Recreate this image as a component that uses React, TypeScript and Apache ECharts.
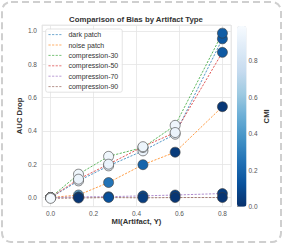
import React, { useEffect, useRef } from "react";
import * as echarts from "echarts";

const miValues = [0, 0.13, 0.27, 0.43, 0.58, 0.8];
const seriesNames = ["dark patch", "noise patch", "compression-30", "compression-50", "compression-70", "compression-90"];

const darkPatchDrop = [0, 0.1, 0.19, 0.28, 0.38, 0.952];
const noisePatchDrop = [0, 0.015, 0.09, 0.197, 0.272, 0.545];
const comp30Drop = [0, 0.14, 0.247, 0.3, 0.433, 0.986];
const comp50Drop = [0, 0.11, 0.2, 0.305, 0.39, 0.871];
const comp70Drop = [0, 0.004, 0.005, 0.01, 0.015, 0.024];
const comp90Drop = [-0.005, -0.003, 0, -0.002, 0, 0];

const darkPatchCmi = [0.98, 0.92, 0.93, 0.93, 0.93, 0.15];
const noisePatchCmi = [0.98, 0.45, 0.26, 0.2, 0.04, 0.03];
const comp30Cmi = [0.98, 0.95, 0.95, 0.95, 0.95, 0.17];
const comp50Cmi = [0.98, 0.93, 0.93, 0.94, 0.93, 0.16];
const comp70Cmi = [0.98, 0.05, 0.16, 0.1, 0.05, 0.05];
const comp90Cmi = [0.98, 0.02, 0.12, 0.05, 0.02, 0.02];

const dropSeries = [darkPatchDrop, noisePatchDrop, comp30Drop, comp50Drop, comp70Drop, comp90Drop];
const cmiSeries = [darkPatchCmi, noisePatchCmi, comp30Cmi, comp50Cmi, comp70Cmi, comp90Cmi];

const lineColors = ["#1f77b4", "#ff7f0e", "#2ca02c", "#d62728", "#9467bd", "#8c564b"];
const bluesR = ["#08306b", "#08519c", "#2171b5", "#4292c6", "#6baed6", "#9ecae1", "#c6dbef", "#deebf7", "#f7fbff"];
const colorbarTicks = [0, 0.2, 0.4, 0.6, 0.8];
const cmiMax = 0.99;

const FONT = '"Liberation Sans", Arial, sans-serif';

export default function App() {
  const ref = useRef<HTMLDivElement>(null);
  useEffect(() => {
    if (!ref.current) return;
    const chart = echarts.init(ref.current, undefined, { renderer: "svg" });

    const lineSeries = seriesNames.map((name, i) => ({
      name,
      type: "line",
      xAxisIndex: 0,
      yAxisIndex: 0,
      data: miValues.map((x, j) => [x, dropSeries[i][j]]),
      symbol: "none",
      showSymbol: false,
      lineStyle: { color: lineColors[i], width: 0.9, type: [2.2, 1.4], opacity: 0.85 },
      itemStyle: { color: lineColors[i] },
      z: 2,
      silent: true,
    }));

    const scatterSeries = seriesNames.map((name, i) => ({
      name: name + " points",
      type: "scatter",
      xAxisIndex: 0,
      yAxisIndex: 0,
      data: miValues.map((x, j) => [x, dropSeries[i][j], cmiSeries[i][j]]),
      symbolSize: 10,
      itemStyle: { borderColor: "#3a3a3a", borderWidth: 0.6, opacity: 1 },
      z: 3,
      silent: true,
    }));

    const nameStyle = { fontSize: 7.7, fontWeight: "bold", color: "#333", fontFamily: FONT };

    chart.setOption({
      animation: false,
      textStyle: { fontFamily: FONT },
      title: {
        text: "Comparison of Bias by Artifact Type",
        left: 136,
        textAlign: "center",
        top: 15.5,
        padding: 0,
        textStyle: { fontSize: 7.8, fontWeight: "bold", color: "#333", fontFamily: FONT },
      },
      graphic: [
        {
          type: "rect",
          shape: { x: 2, y: 2, width: 279, height: 240, r: 9 },
          style: { fill: "none", stroke: "#cfcfcf", lineWidth: 2, lineDash: [7, 4] },
          silent: true,
          z: -10,
        },
      ],
      legend: {
        data: seriesNames,
        orient: "vertical",
        left: 45.7,
        top: 29,
        padding: [1.6, 4, 1.6, 2.3],
        itemWidth: 14,
        itemHeight: 8,
        itemGap: 2.4,
        selectedMode: false,
        backgroundColor: "rgba(255,255,255,0.85)",
        borderColor: "#dcdcdc",
        borderWidth: 0.8,
        borderRadius: 2,
        itemStyle: { opacity: 0, borderWidth: 0 },
        lineStyle: { width: 0.9, opacity: 0.7 },
        textStyle: { fontSize: 7, color: "#333", fontFamily: FONT, lineHeight: 8, padding: [0, 0, 0, 1] },
      },
      grid: [
        { left: 42, right: 52, top: 25, bottom: 38.3, show: true, borderColor: "#e2e2e2", borderWidth: 0.8, backgroundColor: "#fff" },
        { left: 237, width: 9.5, top: 26, height: 180.7 },
      ],
      xAxis: [
        {
          gridIndex: 0,
          type: "value",
          min: -0.04,
          max: 0.84,
          splitNumber: 5,
          name: "MI(Artifact, Y)",
          nameLocation: "middle",
          nameGap: 11,
          nameMoveOverlap: false,
          nameTextStyle: nameStyle,
          axisLine: { show: false },
          axisTick: { show: false },
          axisLabel: { fontSize: 6.5, color: "#555", margin: 3, showMinLabel: false, showMaxLabel: false, formatter: (v: number) => v.toFixed(1) },
          splitLine: { show: true, lineStyle: { color: "#e5e5e5", width: 0.8 } },
        },
        { gridIndex: 1, type: "value", show: false, min: 0, max: 1 },
      ],
      yAxis: [
        {
          gridIndex: 0,
          type: "value",
          min: -0.055,
          max: 1.035,
          splitNumber: 5,
          name: "AUC Drop",
          nameLocation: "middle",
          nameGap: 19,
          nameRotate: 90,
          nameMoveOverlap: false,
          nameTextStyle: nameStyle,
          axisLine: { show: false },
          axisTick: { show: false },
          axisLabel: { fontSize: 6.5, color: "#555", margin: 5, showMinLabel: false, showMaxLabel: false, formatter: (v: number) => v.toFixed(1) },
          splitLine: { show: true, lineStyle: { color: "#e5e5e5", width: 0.8 } },
        },
        {
          gridIndex: 1,
          type: "value",
          position: "right",
          min: 0,
          max: cmiMax,
          name: "CMI",
          nameLocation: "middle",
          nameGap: 16,
          nameRotate: 90,
          nameMoveOverlap: false,
          nameTextStyle: nameStyle,
          axisLine: { show: false },
          axisTick: { show: true, length: 2.5, lineStyle: { color: "#555", width: 0.6 }, customValues: colorbarTicks },
          axisLabel: { fontSize: 6.5, color: "#555", margin: 2, customValues: colorbarTicks, formatter: (v: number) => v.toFixed(1) },
          splitLine: { show: false },
        },
      ],
      visualMap: {
        type: "continuous",
        min: 0,
        max: cmiMax,
        dimension: 2,
        seriesIndex: scatterSeries.map((_, i) => i + lineSeries.length),
        inRange: { color: bluesR },
        show: true,
        calculable: false,
        hoverLink: false,
        left: 237,
        top: 26,
        padding: 0,
        itemWidth: 9.5,
        itemHeight: 180.7,
        text: null,
        showLabel: false,
      },
      series: [...lineSeries, ...scatterSeries],
    });
    return () => chart.dispose();
  }, []);
  return <div ref={ref} style={{ position: "fixed", left: 0, top: 0, width: 283, height: 245, background: "#fff" }} />;
}
